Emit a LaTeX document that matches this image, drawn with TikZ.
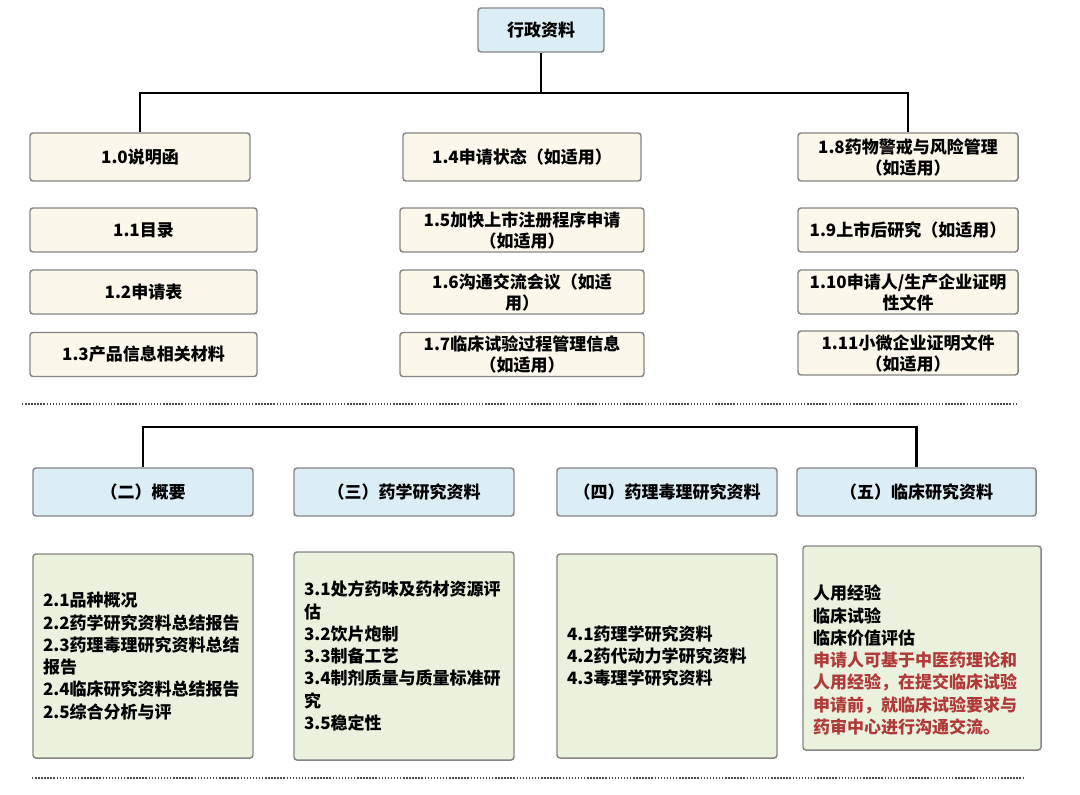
\documentclass[tikz,border=0pt]{standalone}
\usepackage{fontspec}
\setmainfont{Noto Sans CJK SC}

\definecolor{headblue}{HTML}{DCEEF5}
\definecolor{itemcream}{HTML}{FBF8EB}
\definecolor{listgreen}{HTML}{EAF1DD}
\definecolor{boxgray}{HTML}{858585}
\definecolor{notered}{HTML}{B03A3A}
\definecolor{dotgray}{HTML}{4A4A4A}

\tikzset{%
  box/.style={
    rectangle,
    rounded corners=2.25pt,
    draw=boxgray,
    line width=1.1pt,
    inner sep=0pt,
    align=center,
    font=\fontsize{12.75}{15.75}\selectfont\bfseries
  },
  head/.style={box, fill=headblue, minimum height=36pt},
  item/.style={box, fill=itemcream, minimum height=33pt},
  item top/.style={item, minimum height=36pt},
  list/.style={
    box,
    fill=listgreen,
    align=left,
    minimum width=165pt,
    text width=150pt,
    minimum height=153pt,
    font=\fontsize{12.75}{16.7}\selectfont\bfseries
  },
  conn/.style={line width=1.8pt, black},
  sep/.style={line width=1.6pt, dotgray, dash pattern=on 1.1pt off 1.2pt},
}

\begin{document}
\begin{tikzpicture}[x=0.75pt, y=-0.75pt]
\useasboundingbox[fill=white] (0,0) rectangle (1080,794);
% 行政资料
\node[box, fill=headblue, minimum width=94.5pt, minimum height=33pt] (admin) at (541,30) {行政资料};
\node[item top, minimum width=165pt] (b10) at (140,157) {1.0说明函};
\node[item, minimum width=170.25pt] (b11) at (143.5,230) {1.1目录};
\node[item, minimum width=170.25pt] (b12) at (143.5,292) {1.2申请表};
\node[item, minimum width=170.25pt] (b13) at (143.5,354.5) {1.3产品信息相关材料};
\node[item top, minimum width=178.5pt] (b14) at (522,157) {1.4申请状态（如适用）};
\node[item, minimum width=183pt] (b15) at (522,230) {1.5加快上市注册程序申请\\（如适用）};
\node[item, minimum width=183pt] (b16) at (522,292) {1.6沟通交流会议（如适\\用）};
\node[item, minimum width=183pt] (b17) at (522,354.5) {1.7临床试验过程管理信息\\（如适用）};
\node[item top, minimum width=165pt] (b18) at (908,157) {1.8药物警戒与风险管理\\（如适用）};
\node[item, minimum width=165pt] (b19) at (908,230) {1.9上市后研究（如适用）};
\node[item, minimum width=165pt] (b110) at (908,292) {1.10申请人/生产企业证明\\性文件};
\node[item, minimum width=165pt] (b111) at (908,353) {1.11小微企业证明文件\\（如适用）};
\coordinate (top bus) at (541,93);
\draw[conn] (admin.south) -- (top bus);
\draw[conn] (b10.north) |- (top bus) -| (b18.north);

\draw[sep] (22,404) -- (1017,404);

% 二 ~ 五
\node[head, minimum width=165pt] (h2) at (143,492) {（二）概要};
\node[head, minimum width=165pt] (h3) at (404,492) {（三）药学研究资料};
\node[head, minimum width=165pt] (h4) at (667,492) {（四）药理毒理研究资料};
\node[head, minimum width=179.25pt] (h5) at (916.5,492) {（五）临床研究资料};
\coordinate (low bus) at (540,427);
\draw[conn] (h2.north) |- (low bus) -| (h5.north);

\node[list] (c2) at (143,656) {2.1品种概况\\2.2药学研究资料总结报告\\2.3药理毒理研究资料总结\\报告\\2.4临床研究资料总结报告\\2.5综合分析与评};
\node[list, minimum height=156pt] (c3) at (404,656) {3.1处方药味及药材资源评\\估\\3.2饮片炮制\\3.3制备工艺\\3.4制剂质量与质量标准研\\究\\3.5稳定性};
\node[list] (c4) at (667,656) {4.1药理学研究资料\\4.2药代动力学研究资料\\4.3毒理学研究资料};
\node[list, minimum width=178.5pt, text width=163.5pt] (c5) at (922,648) {};
\node[box, draw=none, align=left, anchor=west, font=\fontsize{12.75}{16.7}\selectfont\bfseries] (c5 text) at ([xshift=7.5pt, yshift=-9pt]c5.west) {人用经验\\临床试验\\临床价值评估\\\textcolor{notered}{申请人可基于中医药理论和}\\\textcolor{notered}{人用经验，在提交临床试验}\\\textcolor{notered}{申请前，就临床试验要求与}\\\textcolor{notered}{药审中心进行沟通交流。}};

\draw[sep] (32,778) -- (1025,778);
\end{tikzpicture}
\end{document}
